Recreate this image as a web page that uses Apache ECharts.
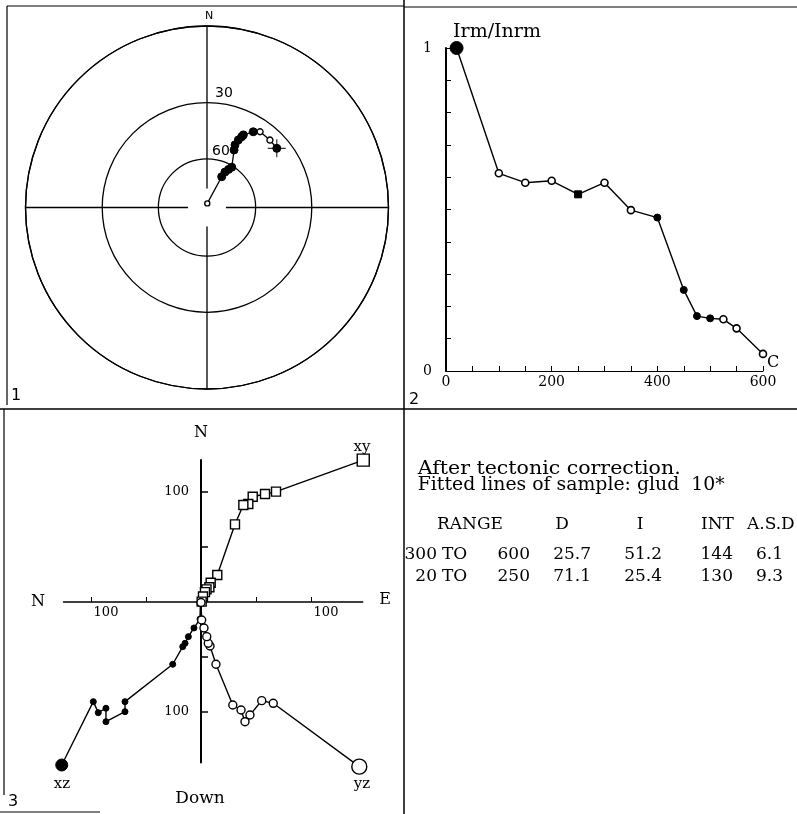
<!DOCTYPE html>
<html><head><meta charset="utf-8">
<script src="https://cdn.jsdelivr.net/npm/echarts@6/dist/echarts.min.js"></script>
<style>html,body{margin:0;padding:0;background:#fff}#c{width:797px;height:814px}</style>
</head><body><div id="c"></div>
<script>
// demagnetisation steps (C)
const steps = [20,100,150,200,250,300,350,400,450,475,500,525,550,600];
// panel 1: stereonet (declination / inclination, degrees)
const stereoDec = [49.7,43.0,35.0,31.4,26.6,26.1,24.9,24.1,25.2,31.6,29.5,26.9,25.5,4];
const stereoInc = [36.5,36.1,36.0,37.9,41.8,43.1,45.4,48.6,51.4,60.8,62.9,65.3,68.7,87.4];
const stereoFilled = [true,false,false,true,true,true,true,true,true,true,true,true,true,false];
const incCircles = [0,30,60];
const incLabels = ['30','60'];
// panel 2: normalised intensity
const intensity = [1.0,0.612,0.583,0.589,0.547,0.583,0.498,0.475,0.251,0.170,0.163,0.160,0.132,0.053];
const intFilled = [true,false,false,false,true,false,false,true,true,true,true,false,false,false];
const intXLabels = [0,200,400,600];
const intYLabels = [0,1];
// panel 3: Zijderveld projections
const xyE = [147.5,68.2,58.2,47.0,43.0,38.5,30.9,14.8,8.8,7.6,5.0,3.6,1.8,0.6];
const xyN = [129,100.3,98.2,95.7,89.1,88.2,70.6,24.5,17.5,13.4,11.5,9.0,5.0,0.3];
const xzN = [126.6,97.9,93.4,86.4,86.4,69.1,69.1,25.7,16.6,14.5,11.5,6.4,0.9,0.5];
const xzDown = [148.2,90.6,100.6,96.6,108.8,99.7,90.6,56.6,40.6,37.5,31.5,23.6,15.5,0];
const yzE = [143.9,65.7,55.2,44.5,40.0,36.4,28.9,13.6,8.2,6.6,5.2,2.7,0.6,0];
const yzDown = [149.7,92.1,89.7,102.7,108.8,98.2,93.6,56.6,40.0,37.5,31.5,23.6,16.4,0.5];
const zijHTicks = [-100,-50,50,100,150];
const zijVTicks = [100,50,-50,-100];
const zijHLabels = [-100,100];
const zijVLabels = [100,-100];
// panel 4: fitted lines table
const sentences = ['After tectonic correction.', 'Fitted lines of sample: glud  10*'];
const tableHeader = ['RANGE','D','I','INT','A.S.D'];
const rangeFrom = [300,20];
const rangeTo = [600,250];
const fitD = [25.7,71.1];
const fitI = [51.2,25.4];
const fitINT = [144,130];
const fitASD = [6.1,9.3];

const SERIF = '"DejaVu Serif", "Liberation Serif", serif';
const SANS = '"DejaVu Sans", "Liberation Sans", sans-serif';
const proj = inc => Math.tan((90 - inc) / 2 * Math.PI / 180);
const circleR = incCircles.map(proj);
const BLK = '#000';
const openStyle = {color:'#fff', borderColor:BLK, borderWidth:1.4};
const fillStyle = {color:BLK, borderColor:BLK, borderWidth:1};

function measure(text, font){
  const c = document.createElement('canvas').getContext('2d');
  c.font = font; return c.measureText(text).width;
}
function txt(x, y, text, size, family, align, extra){
  align = align || 'center';
  return Object.assign({type:'text', x:x, y:y, z:100, silent:true,
    style:{text:String(text), font:size + 'px ' + family, fill:BLK,
      textAlign:align, textVerticalAlign:'middle', align:align, verticalAlign:'middle'}}, extra || {});
}
function ln(x1,y1,x2,y2,w){
  return {type:'line', z:100, silent:true, shape:{x1:x1,y1:y1,x2:x2,y2:y2}, style:{stroke:BLK, lineWidth:w||1.2}};
}

const chart = echarts.init(document.getElementById('c'), null, {renderer:'canvas', width:797, height:814});

const stereoData = steps.map((s,i)=>({
  value:[proj(stereoInc[i]), stereoDec[i]],
  symbolSize: i === steps.length-1 ? 5 : (stereoFilled[i] ? 8 : 6),
  itemStyle: stereoFilled[i] ? fillStyle : openStyle
}));
const intData = steps.map((s,i)=>({
  value:[s, intensity[i]],
  symbol: s === 250 ? 'rect' : 'circle',
  symbolSize: i === 0 ? 13 : 7,
  itemStyle: intFilled[i] ? fillStyle : Object.assign({}, openStyle, {borderWidth:1.6})
}));
const xyData = steps.map((s,i)=>({value:[xyE[i], xyN[i]], symbolSize: i===0 ? 12 : 9}));
const xzData = steps.map((s,i)=>({value:[-xzN[i], -xzDown[i]], symbolSize: i===0 ? 12 : 6}));
const yzData = steps.map((s,i)=>({value:[yzE[i], -yzDown[i]], symbolSize: i===0 ? 15 : 8}));

// Zijderveld grid geometry
const zGrid = {left:63.5, top:460.1, width:299.2, height:302.5};
const zX = [-125,147], zY = [-146,129];
const zeroX = zGrid.width * (0 - zX[0]) / (zX[1] - zX[0]);
const zeroY = zGrid.height * (zY[1] - 0) / (zY[1] - zY[0]);

const sentFont = 19;
const sentTargets = [263, 307];
const graphics = [
  {type:'circle', z:1, silent:true, shape:{cx:207, cy:207.5, r:19}, style:{fill:'#fff'}},
  ln(7,6,404,6), ln(7,6,7,405), ln(404,0,404,814,1.5), ln(404,7,797,7),
  ln(0,409,797,409,1.5), ln(4,409,4,795), ln(0,812,100,812),
  txt(16,396,'1',16,SANS), txt(414,400,'2',16,SANS), txt(13,802,'3',16,SANS),
  txt(209,16,'N',11,SANS), txt(224,93,incLabels[0],14,SANS), txt(221,151,incLabels[1],14,SANS),
  txt(497,32,'Irm/Inrm',19,SERIF),
  txt(201,433,'N',16,SERIF), txt(38,602,'N',16,SERIF), txt(385,600,'E',16,SERIF),
  txt(200,799,'Down',17,SERIF), txt(362,447,'xy',15,SERIF), txt(62,784,'xz',15,SERIF), txt(362,784,'yz',15,SERIF)
];
sentences.forEach((s,i)=>{
  const f = sentFont + 'px ' + SERIF;
  const sc = sentTargets[i] / measure(s, f);
  graphics.push(txt(417.7, 469 + i*16, s, sentFont, SERIF, 'left', {scaleX: sc}));
});
const TF = 17;
graphics.push(txt(437,525,tableHeader[0],TF,SERIF,'left'));
graphics.push(txt(562,525,tableHeader[1],TF,SERIF,'center'));
graphics.push(txt(640,525,tableHeader[2],TF,SERIF,'center'));
graphics.push(txt(701,525,tableHeader[3],TF,SERIF,'left'));
graphics.push(txt(747,525,tableHeader[4],TF,SERIF,'left'));
rangeFrom.forEach((v,i)=>{
  const y = 555 + i*22;
  graphics.push(txt(437,y,v,TF,SERIF,'right'));
  graphics.push(txt(442,y,'TO',TF,SERIF,'left'));
  graphics.push(txt(530,y,rangeTo[i],TF,SERIF,'right'));
  graphics.push(txt(591,y,fitD[i].toFixed(1),TF,SERIF,'right'));
  graphics.push(txt(662,y,fitI[i].toFixed(1),TF,SERIF,'right'));
  graphics.push(txt(733,y,fitINT[i],TF,SERIF,'right'));
  graphics.push(txt(783,y,fitASD[i].toFixed(1),TF,SERIF,'right'));
});

const lblStyle = {color:BLK, fontFamily:SERIF};
const option = {
  animation:false,
  backgroundColor:'#fff',
  polar:{center:[207,207.5], radius:181.5},
  angleAxis:{type:'value', min:0, max:360, interval:90, startAngle:90, clockwise:true,
    axisLine:{show:true, lineStyle:{color:BLK, width:1.3}},
    axisTick:{show:false}, axisLabel:{show:false},
    splitLine:{show:true, lineStyle:{color:BLK, width:1.3}}},
  radiusAxis:{type:'value', min:0, max:1,
    axisLine:{show:false}, axisTick:{show:false, customValues:circleR},
    axisLabel:{show:false}, splitLine:{show:true, lineStyle:{color:BLK, width:1.3}}},
  grid:[
    {left:446, top:48, width:317, height:323, outerBoundsMode:'none'},
    Object.assign({outerBoundsMode:'none'}, zGrid)
  ],
  xAxis:[
    {type:'value', gridIndex:0, min:0, max:600, interval:50,
      axisLine:{show:true, lineStyle:{color:BLK, width:1}},
      axisTick:{show:true, inside:true, length:5, lineStyle:{color:BLK}},
      axisLabel:Object.assign({customValues:intXLabels, fontSize:14, margin:4}, lblStyle),
      splitLine:{show:false},
      name:'C', nameLocation:'end', nameGap:4, nameTextStyle:{color:BLK, fontFamily:SERIF, fontSize:16, verticalAlign:'bottom'}},
    {type:'value', gridIndex:1, min:zX[0], max:zX[1], position:'bottom',
      offset: -(zGrid.height - zeroY),
      axisLine:{show:true, onZero:false, lineStyle:{color:BLK, width:1.5}},
      axisTick:{show:true, inside:true, length:5, customValues:zijHTicks, lineStyle:{color:BLK}},
      axisLabel:Object.assign({customValues:zijHLabels, formatter:v=>String(Math.abs(v)), fontSize:13, margin:4, padding:[0,0,0,30]}, lblStyle),
      splitLine:{show:false}}
  ],
  yAxis:[
    {type:'value', gridIndex:0, min:0, max:1, interval:0.1,
      axisLine:{show:true, lineStyle:{color:BLK, width:2}},
      axisTick:{show:true, inside:true, length:5, lineStyle:{color:BLK}},
      axisLabel:Object.assign({customValues:intYLabels, formatter:v=>String(v), fontSize:14, margin:14}, lblStyle),
      splitLine:{show:false}},
    {type:'value', gridIndex:1, min:zY[0], max:zY[1], position:'left',
      offset: -zeroX,
      axisLine:{show:true, onZero:false, lineStyle:{color:BLK, width:2}},
      axisTick:{show:true, inside:true, length:7, customValues:zijVTicks, lineStyle:{color:BLK, width:1.5}},
      axisLabel:Object.assign({customValues:zijVLabels, formatter:v=>String(Math.abs(v)), fontSize:13, margin:12}, lblStyle),
      splitLine:{show:false}}
  ],
  series:[
    {type:'line', coordinateSystem:'polar', polarIndex:0, data:stereoData, symbol:'circle',
      lineStyle:{color:BLK, width:1.3}, silent:true, z:3},
    {type:'scatter', coordinateSystem:'polar', polarIndex:0,
      data:[[proj(stereoInc[0]), stereoDec[0]]],
      symbol:'path://M8.4,0h1.2v8.4h8.4v1.2h-8.4v8.4h-1.2v-8.4h-8.4v-1.2h8.4z', symbolSize:18,
      itemStyle:{color:BLK}, silent:true, z:4},
    {type:'line', xAxisIndex:0, yAxisIndex:0, data:intData,
      lineStyle:{color:BLK, width:1.4}, silent:true, z:3},
    {type:'line', xAxisIndex:1, yAxisIndex:1, data:xyData, symbol:'rect',
      itemStyle:openStyle, lineStyle:{color:BLK, width:1.4}, clip:false, silent:true, z:3},
    {type:'line', xAxisIndex:1, yAxisIndex:1, data:xzData, symbol:'circle',
      itemStyle:fillStyle, lineStyle:{color:BLK, width:1.4}, clip:false, silent:true, z:3},
    {type:'line', xAxisIndex:1, yAxisIndex:1, data:yzData, symbol:'circle',
      itemStyle:openStyle, lineStyle:{color:BLK, width:1.4}, clip:false, silent:true, z:3}
  ],
  graphic:{elements:graphics}
};
chart.setOption(option);
</script>
</body></html>
